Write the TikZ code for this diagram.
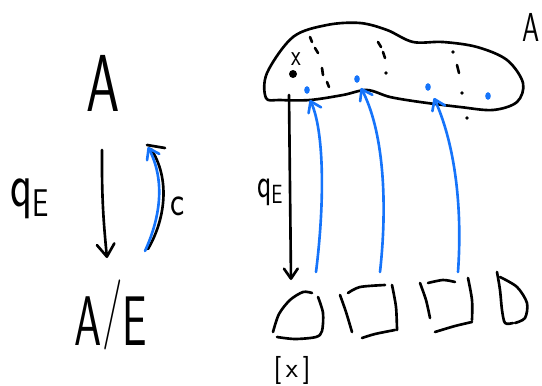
\documentclass[tikz,border=0pt]{standalone}
\usepackage{fontspec}
\usetikzlibrary{arrows.meta}
\definecolor{penblue}{RGB}{22,116,250}
\newcommand{\squeeze}[2]{\scalebox{#1}[1]{#2}}
\newcommand{\fsz}[1]{\fontsize{#1}{#1}\selectfont}

\begin{document}
\begin{tikzpicture}[
        x=0.4mm,
        y=-0.4mm,
        font=\sffamily,
        ink/.style={line width=3pt, line cap=round, line join=round},
        blueink/.style={ink, penblue},
        barb/.style={-{Straight Barb[round, length=5mm, width=7mm]}},
        smallbarb/.style={-{Straight Barb[round, length=4mm, width=5.5mm]}},
        letter/.style={inner sep=0pt},
        inkdot/.style={fill=black}
    ]
        \useasboundingbox (0,0) rectangle (542,386);

        % Left panel: A, its quotient A/E, and the two maps between them.
        \node[letter, font=\sffamily\fsz{92}] (topA) at (103,83) {\squeeze{0.66}{A}};
        \node[letter, font=\sffamily\fsz{80}, anchor=base] (quotA) at (111,345)
            {\squeeze{0.62}{A\raisebox{14pt}{/}E}};
        \node[letter, font=\sffamily\fsz{72}, anchor=base west] (qleft) at (10,206)
            {\squeeze{0.72}{q}\raisebox{-12pt}{\fsz{44}\squeeze{0.75}{E}}};
        \node[letter, font=\sffamily\fsz{48}, anchor=base] (cmap) at (178,215) {\squeeze{0.8}{c}};

        \coordinate (qtop) at (102,150);
        \coordinate (qbot) at (107,258);
        \coordinate (cbot) at (145,251);
        \coordinate (ctop) at (148,147);
        \draw[ink, barb] (qtop) to[bend right=3] (qbot);
        \draw[ink] (148,249) .. controls (166,218) and (170,178) .. (151,149);
        \draw[ink] (147,145) -- (165,148);
        \draw[blueink, smallbarb] (cbot) .. controls (161,216) and (165,180) .. (ctop);

        % Right panel: the set A with its classes, and the classes below.
        \draw[ink] plot[smooth cycle, tension=0.55] coordinates {
            (266,98) (267,73) (293,37) (327,25) (360,23) (387,30) (413,42) (443,42)
            (477,47) (507,60) (523,83) (517,102) (493,110) (460,107) (420,102)
            (390,97) (367,90) (343,95) (310,100) (280,100)};
        \node[letter, font=\sffamily\fsz{46}] (rightA) at (531,27) {\squeeze{0.68}{A}};
        \node[letter, font=\sffamily\fsz{34}] (xlabel) at (296,59) {\squeeze{0.75}{x}};
        \fill[inkdot] (293,74) circle (4);

        % class boundaries, drawn as broken strokes
        \foreach \xa/\ya/\xb/\yb in {310/37/312/42, 315/48/318/53, 322/68/323/75, 327/82/329/87,
                378/42/381/47, 383/52/385/58, 457/65/459/73} {
            \draw[ink] (\xa,\ya) -- (\xb,\yb);
        }
        \foreach \x/\y in {386/73, 453/52, 462/93, 467/118} {
            \fill[inkdot] (\x,\y) circle (1.8);
        }
        \foreach \x/\y in {307/90, 357/79, 428/87, 488/96} {
            \fill[penblue] (\x,\y) ellipse (2.8 and 3.8);
        }

        % the classes as blocks
        \draw[ink] plot[smooth] coordinates {(273,332) (279,314) (290,300) (303,292) (312,293)};
        \draw[ink] plot[smooth] coordinates {(318,297) (323,313) (322,331) (316,337) (295,339) (277,337)};
        \draw[ink] plot[smooth] coordinates {(340,295) (346,312) (352,332)};
        \draw[ink] plot[smooth] coordinates {(348,293) (360,287) (385,285)};
        \draw[ink] plot[smooth] coordinates {(392,285) (396,307) (397,330)};
        \draw[ink] plot[smooth] coordinates {(395,330) (375,334) (362,338)};
        \draw[ink] plot[smooth] coordinates {(420,283) (426,300) (430,318)};
        \draw[ink] plot[smooth] coordinates {(428,283) (443,280) (455,282)};
        \draw[ink] plot[smooth] coordinates {(468,278) (472,300) (472,320)};
        \draw[ink] plot[smooth] coordinates {(472,322) (455,326) (435,332)};
        \draw[ink] plot[smooth] coordinates {(497,272) (500,290) (502,310) (505,323) (513,323)};
        \draw[ink] plot[smooth] coordinates {(500,277) (517,287) (527,303) (525,318) (515,323)};
        \node[letter, font=\sffamily\fsz{32}] (xclass) at (292,370) {[\,x\,]};

        \node[letter, font=\sffamily\fsz{48}, anchor=base west] (qright) at (257,197)
            {\squeeze{0.7}{q}\raisebox{-7pt}{\fsz{30}\squeeze{0.75}{E}}};
        \coordinate (qstart) at (289,95);
        \coordinate (qend) at (291,280);
        \draw[ink, smallbarb] (qstart) -- (qend);

        \coordinate (rep1) at (310,100);
        \coordinate (rep2) at (361,88);
        \coordinate (rep3) at (434,98);
        \coordinate (base1) at (316,272);
        \coordinate (base2) at (380,272);
        \coordinate (base3) at (458,272);
        \draw[blueink, smallbarb] (base1) .. controls (325,200) and (324,130) .. (rep1);
        \draw[blueink, smallbarb] (base2) .. controls (388,200) and (383,130) .. (rep2);
        \draw[blueink, smallbarb] (base3) .. controls (463,200) and (453,140) .. (rep3);
    \end{tikzpicture}
\end{document}
